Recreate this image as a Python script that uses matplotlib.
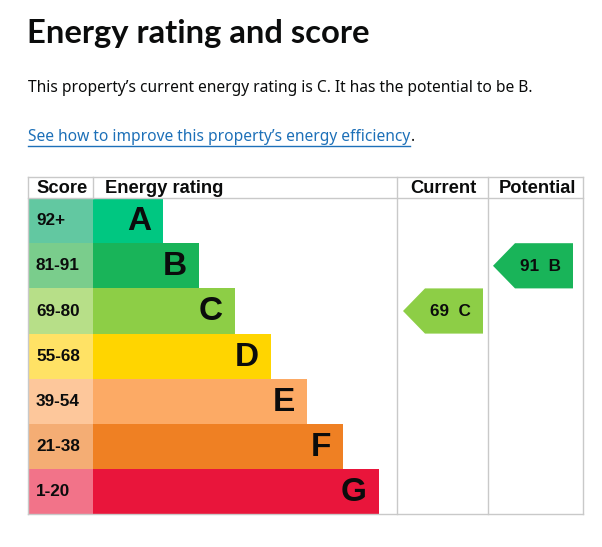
import matplotlib
matplotlib.use("Agg")
import matplotlib.pyplot as plt
from matplotlib.patches import Polygon

# data
bands = ["A", "B", "C", "D", "E", "F", "G"]
score_labels = ["92+", "81-91", "69-80", "55-68", "39-54", "21-38", "1-20"]
band_min = [92, 81, 69, 55, 39, 21, 1]
band_colors = ["#00c781", "#19b459", "#8dce46", "#ffd500", "#fcaa65", "#ef8023", "#e9153b"]
score_colors = ["#62c8a1", "#7acd8c", "#b7df88", "#ffe265", "#fdc79b", "#f4ad74", "#f27389"]
current_score = 69
potential_score = 91
headers = ["Score", "Energy rating", "Current", "Potential"]

title = "Energy rating and score"
summary = "This property\u2019s current energy rating is C. It has the potential to be B."
link_text = "See how to improve this property\u2019s energy efficiency"

W, H = 602, 547
fig = plt.figure(figsize=(W / 100, H / 100), dpi=100)
ax = fig.add_axes([0, 0, 1, 1])
ax.set_xlim(0, W)
ax.set_ylim(H, 0)
ax.axis("off")

grid = "#c9c9c9"
x_left, x_score, x_cur, x_pot, x_right = 28, 93, 397, 488, 583
y_top, y_head = 177, 198
row_h = 45.2
y_bottom = y_head + row_h * len(bands)

# text above the table
ax.text(27, 33, title, fontsize=23.6, fontweight="bold", family="Lato",
        va="center", ha="left", color="#0b0c0c")
ax.text(28, 88, summary, fontsize=11.2, family="Noto Sans", va="center",
        ha="left", color="#0b0c0c")
link = ax.text(28, 137, link_text, fontsize=11.2, family="Noto Sans", va="center",
               ha="left", color="#1d70b8")
fig.canvas.draw()
bb = link.get_window_extent()
x_end = bb.x1
ax.plot([28, x_end], [146, 146], color="#1d70b8", lw=1)
ax.text(x_end + 1, 137, ".", fontsize=11.2, family="Noto Sans", va="center",
        ha="left", color="#0b0c0c")

# rows
centers = [y_head + row_h * (i + 0.5) for i in range(len(bands))]
bar_len = [70 + 36 * i for i in range(len(bands))]
ax.barh(centers, [x_score - x_left] * len(bands), left=x_left, height=row_h,
        color=score_colors, edgecolor="none")
ax.barh(centers, bar_len, left=x_score, height=row_h, color=band_colors,
        edgecolor="none")
for i, yc in enumerate(centers):
    ax.text(36, yc, score_labels[i], fontsize=12.3, fontweight="bold",
            family="Liberation Sans", va="center", ha="left", color="#0b0c0c")
    ax.text(x_score + bar_len[i] - 12, yc + 1, bands[i], fontsize=24,
            fontweight="bold", family="Liberation Sans", va="center",
            ha="right", color="#0b0c0c")

# grid lines
for yy in [y_top, y_head, y_bottom]:
    ax.plot([x_left, x_right], [yy, yy], color=grid, lw=1)
for xx in [x_left, x_cur, x_pot, x_right]:
    ax.plot([xx, xx], [y_top, y_bottom], color=grid, lw=1)
ax.plot([x_score, x_score], [y_top, y_head], color=grid, lw=1)

# headers
head_x = [36, 105, 443, 537]
head_ha = ["left", "left", "center", "center"]
for hx, ha, t in zip(head_x, head_ha, headers):
    ax.text(hx, (y_top + y_head) / 2 + 1, t, fontsize=13.2, fontweight="bold",
            family="Liberation Sans", va="center", ha=ha, color="#0b0c0c")


def band_index(score):
    for i, lo in enumerate(band_min):
        if score >= lo:
            return i
    return len(bands) - 1


def draw_arrow(x0, x1, score):
    i = band_index(score)
    top = y_head + row_h * i
    bot = top + row_h
    mid = (top + bot) / 2
    tip = 22
    pts = [(x0, mid), (x0 + tip, top), (x1, top), (x1, bot), (x0 + tip, bot)]
    ax.add_patch(Polygon(pts, closed=True, facecolor=band_colors[i],
                         edgecolor="none"))
    ax.text((x0 + tip + x1) / 2 - 4, mid + 1, f"{score}  {bands[i]}",
            fontsize=12.3, fontweight="bold", family="Liberation Sans",
            va="center", ha="center", color="#0b0c0c")


draw_arrow(403, 483, current_score)
draw_arrow(493, 573, potential_score)

fig.savefig("out.png", dpi=100)
